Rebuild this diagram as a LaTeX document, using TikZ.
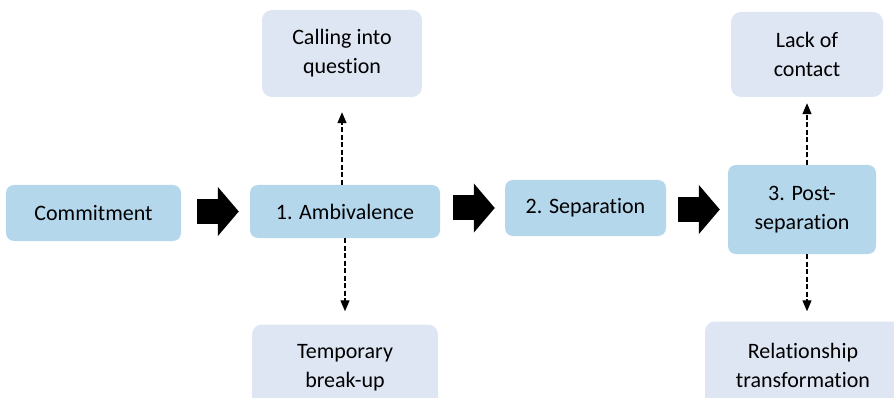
\documentclass[tikz,border=0pt]{standalone}
\usepackage{fontspec}
\setmainfont{Carlito}[Ligatures={NoCommon}]
\usetikzlibrary{arrows.meta,positioning}
\definecolor{stagefill}{HTML}{B4D7EC}
\definecolor{subfill}{HTML}{DEE6F3}

\tikzset{
	stage/.style={fill=stagefill, rounded corners=8pt, align=center, inner sep=0pt, font=\fontsize{22}{29}\selectfont},
	substage/.style={stage, fill=subfill, rounded corners=10pt},
	blockarrow/.style={line width=25pt, -{Triangle[length=21pt,width=48pt]}},
	dasharrow/.style={dash pattern=on 5pt off 2.5pt, line width=1.2pt, -{Triangle[length=11pt,width=9pt]}}
}

\begin{document}
\begin{tikzpicture}[x=1pt,y=-1pt]
	\useasboundingbox (0,0) rectangle (894,398);
	\clip (0,0) rectangle (894,398);

	% main stages
	\node[stage, minimum width=175pt, minimum height=56pt] (commit) at (93.5,213) {Commitment};
	\node[stage, minimum width=190pt, minimum height=53pt] (amb) at (345,211.5) {1. Ambivalence};
	\node[stage, minimum width=161pt, minimum height=56pt] (sep) at (585.5,208) {2. Separation};
	\node[stage, minimum width=148pt, minimum height=89pt] (post) at (802,209.5) {3. Post-\\separation};

	% side outcomes
	\node[substage, minimum width=160pt, minimum height=87pt] (question) at (342,53.5) {Calling into\\question};
	\node[substage, minimum width=186pt, minimum height=87pt] (breakup) at (345,368) {Temporary\\break-up};
	\node[substage, minimum width=152pt, minimum height=85pt] (contact) at (807,54.5) {Lack of\\contact};
	\node[substage, minimum width=196pt, minimum height=87pt] (transform) at (803,365) {Relationship\\transformation};

	\draw[blockarrow, shorten <=16pt, shorten >=11pt] (amb.west -| commit.east) -- (amb.west);
	\draw[blockarrow, shorten <=13pt, shorten >=10pt] (sep.west -| amb.east) -- (sep.west);
	\draw[blockarrow, shorten <=12pt, shorten >=8pt] (post.west -| sep.east) -- (post.west);

	\draw[dasharrow, shorten >=15pt] (question.south |- amb.north) -- (question.south);
	\draw[dasharrow, shorten >=13pt] (amb.south) -- (breakup.north);
	\draw[dasharrow, shorten >=6pt] (contact.south |- post.north) -- (contact.south);
	\draw[dasharrow, shorten >=10pt] (post.south -| contact.south) -- (transform.north -| contact.south);
\end{tikzpicture}
\end{document}
